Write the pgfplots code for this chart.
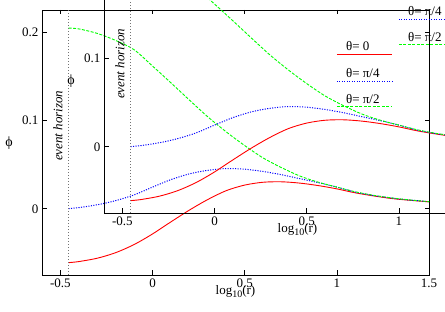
\documentclass[border=0pt]{standalone}
\usepackage{fontspec}
\setmainfont{Liberation Serif}
\usepackage{pgfplots}
\usepackage{pgfplotstable}
\pgfplotsset{compat=1.18}

\pgfplotstableread{
x      r        b       g
-0.456 -0.0610  0.0000  0.2045
-0.40  -0.0598  0.0013  0.2036
-0.30  -0.0560  0.0045  0.1985
-0.20  -0.0497  0.0092  0.1905
-0.10  -0.0405  0.0157  0.1800
0.00   -0.0285  0.0245  0.1615
0.10   -0.0148  0.0330  0.1425
0.20   -0.0015  0.0395  0.1230
0.30    0.0105  0.0435  0.1040
0.40    0.0205  0.0455  0.0870
0.50    0.0268  0.0448  0.0715
0.60    0.0300  0.0422  0.0575
0.70    0.0305  0.0385  0.0465
0.80    0.0290  0.0340  0.0370
0.90    0.0262  0.0295  0.0300
1.00    0.0225  0.0245  0.0245
1.10    0.0180  0.0188  0.0192
1.20    0.0145  0.0150  0.0152
1.30    0.0115  0.0120  0.0122
1.40    0.0095  0.0098  0.0099
1.50    0.0078  0.0080  0.0080
}\curves

\pgfplotsset{myax/.style={
  scale only axis, width=387pt, height=265pt,
  anchor=south west, clip=false,
  xmin=-0.6, xmax=1.5, ymin=-0.075, ymax=0.225,
  xtick={-0.5,0,0.5,1,1.5}, xticklabels={-0.5,0,0.5,1,1.5},
  ytick={0,0.1,0.2}, yticklabels={0,0.1,0.2},
  tick align=inside, major tick length=4.5pt,
  tick style={black, line width=0.7pt},
  axis line style={line width=0.8pt},
  ticklabel style={font=\fontsize{13}{15}\selectfont},
}}

\newcommand{\plotall}{%
  \addplot[red, line width=0.9pt, smooth] table[x=x,y=r]{\curves};
  \addplot[blue, line width=1pt, dash pattern=on 1.1pt off 1.4pt, smooth] table[x=x,y=b]{\curves};
  \addplot[green, line width=0.9pt, dash pattern=on 3pt off 1.5pt, smooth] table[x=x,y=g]{\curves};
  \addplot[black!55, line width=1.2pt, dash pattern=on 1.3pt off 1.7pt] coordinates {(-0.456,-0.075) (-0.456,0.225)};
  \node[rotate=90, font=\itshape\fontsize{13}{15}\selectfont] at (axis cs:-0.513,0.094) {event horizon};
  \node[font=\fontsize{14}{16}\selectfont] at (rel axis cs:0,0.498) [xshift=-33pt] {ϕ};
  \node[font=\fontsize{13}{15}\selectfont, anchor=base] at (rel axis cs:0.5,0) [yshift=-20pt] {log\raisebox{-3pt}{\fontsize{10}{12}\selectfont 10}(r)};
  \draw[red, line width=0.9pt] (axis cs:1.0,0.175) -- (axis cs:1.3,0.175);
  \draw[blue, line width=1pt, dash pattern=on 1.1pt off 1.4pt] (axis cs:1.0,0.1446) -- (axis cs:1.3,0.1446);
  \draw[green, line width=0.9pt, dash pattern=on 3pt off 1.5pt] (axis cs:1.0,0.1153) -- (axis cs:1.3,0.1153);
  \node[anchor=base west, inner sep=0pt, font=\fontsize{13}{15}\selectfont] at (axis cs:1.049,0.1790) {θ= 0};
  \node[anchor=base west, inner sep=0pt, font=\fontsize{13}{15}\selectfont] at (axis cs:1.049,0.1486) {θ= π/4};
  \node[anchor=base west, inner sep=0pt, font=\fontsize{13}{15}\selectfont] at (axis cs:1.049,0.1193) {θ= π/2};
}

\begin{document}
\begin{tikzpicture}
\path[use as bounding box, clip] (0,0) rectangle (445pt,312pt);
\begin{axis}[myax, at={(42pt,37pt)}]
\plotall
\end{axis}
\begin{axis}[myax, at={(104pt,99pt)}]
\plotall
\end{axis}
\end{tikzpicture}
\end{document}
